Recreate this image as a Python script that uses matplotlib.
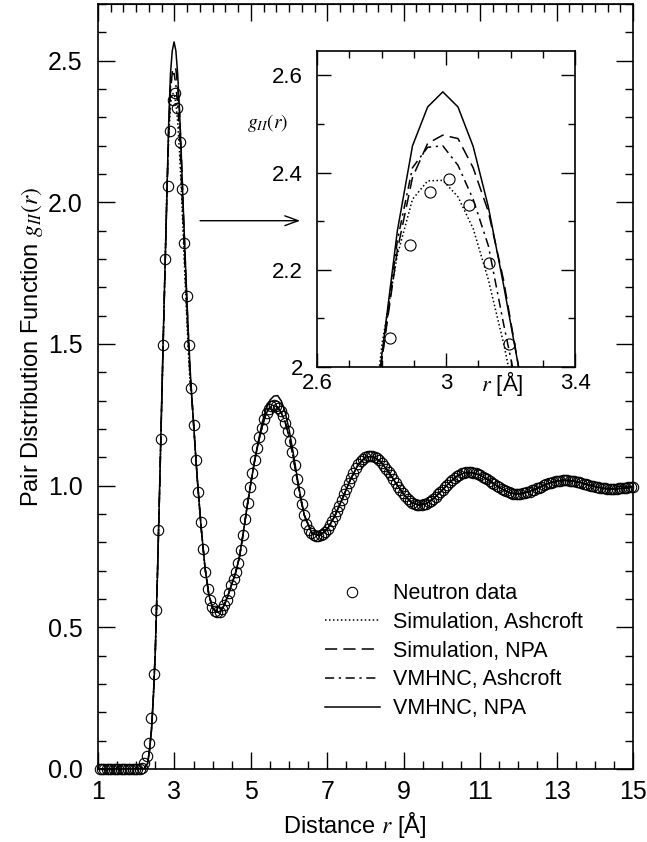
import numpy as np
import matplotlib
matplotlib.use('Agg')
import matplotlib.pyplot as plt
from matplotlib.ticker import MultipleLocator, FixedLocator, FixedFormatter

plt.rcParams['font.family'] = ['Liberation Sans', 'DejaVu Sans']
plt.rcParams['mathtext.fontset'] = 'stix'

# neutron data, regular r grid
r_start, r_step = 1.0425, 0.0615
g_data = [
    0.0, 0.0, 0.0, 0.0, 0.0, 0.0, 0.0, 0.0, 0.0, 0.0,
    0.0, 0.0, 0.0, 0.0, 0.0, 0.0, 0.0, 0.0, 0.005, 0.02,
    0.045, 0.09, 0.18, 0.335, 0.56, 0.843, 1.163, 1.495, 1.80, 2.059,
    2.250, 2.361, 2.386, 2.333, 2.214, 2.048, 1.857, 1.669, 1.495, 1.346,
    1.213, 1.090, 0.978, 0.870, 0.775, 0.696, 0.635, 0.595, 0.570, 0.558,
    0.553, 0.555, 0.563, 0.578, 0.598, 0.622, 0.648, 0.672, 0.695, 0.728,
    0.772, 0.826, 0.884, 0.940, 0.995, 1.045, 1.090, 1.132, 1.170, 1.205,
    1.235, 1.257, 1.272, 1.280, 1.283, 1.281, 1.274, 1.262, 1.245, 1.222,
    1.192, 1.157, 1.117, 1.072, 1.025, 0.978, 0.935, 0.897, 0.866, 0.845,
    0.833, 0.826, 0.823, 0.823, 0.825, 0.830, 0.838, 0.848, 0.860, 0.875,
    0.892, 0.910, 0.929, 0.949, 0.969, 0.989, 1.009, 1.027, 1.045, 1.061,
    1.075, 1.086, 1.095, 1.101, 1.105, 1.106, 1.104, 1.101, 1.096, 1.089,
    1.081, 1.071, 1.060, 1.048, 1.036, 1.023, 1.010, 0.997, 0.984, 0.973,
    0.962, 0.953, 0.945, 0.939, 0.934, 0.932, 0.931, 0.932, 0.934, 0.937,
    0.942, 0.947, 0.954, 0.961, 0.969, 0.978, 0.986, 0.995, 1.004, 1.012,
    1.020, 1.027, 1.033, 1.038, 1.043, 1.046, 1.047, 1.048, 1.047, 1.046,
    1.044, 1.041, 1.037, 1.032, 1.027, 1.022, 1.016, 1.011, 1.005, 0.999,
    0.994, 0.988, 0.984, 0.980, 0.976, 0.974, 0.972, 0.971, 0.971, 0.972,
    0.973, 0.975, 0.977, 0.979, 0.983, 0.986, 0.990, 0.993, 0.997, 1.001,
    1.005, 1.008, 1.011, 1.014, 1.016, 1.017, 1.018, 1.019, 1.019, 1.019,
    1.018, 1.017, 1.015, 1.014, 1.012, 1.010, 1.007, 1.005, 1.003, 1.000,
    0.998, 0.996, 0.994, 0.992, 0.991, 0.990, 0.989, 0.988, 0.988, 0.988,
    0.989, 0.990, 0.991, 0.992, 0.993, 0.994, 0.995, 0.995,
]
r_data = r_start + r_step * np.arange(len(g_data))

# model curves: rise (common), first peak (differs), middle, tail (common)
r_left = [1.0, 1.5, 2.0, 2.2, 2.3, 2.35, 2.4, 2.45, 2.5, 2.55]
g_left = [0.0, 0.0, 0.0, 0.0, 0.02, 0.07, 0.14, 0.26, 0.42, 0.66]

r_peak = [2.614, 2.661, 2.708, 2.755, 2.802, 2.849, 2.896, 2.943, 2.990,
          3.037, 3.084, 3.131, 3.178, 3.225, 3.272, 3.319, 3.366, 3.413]
g_peak_sim_ash = [1.00, 1.26, 1.52, 1.78, 2.05, 2.23, 2.345, 2.383, 2.384,
                  2.35, 2.285, 2.18, 2.05, 1.90, 1.745, 1.60, 1.465, 1.35]
g_peak_sim_npa = [1.00, 1.26, 1.52, 1.77, 2.02, 2.24, 2.39, 2.46, 2.477,
                  2.47, 2.41, 2.32, 2.18, 2.00, 1.83, 1.67, 1.525, 1.40]
g_peak_hnc_ash = [1.00, 1.26, 1.52, 1.77, 2.02, 2.26, 2.41, 2.452, 2.455,
                  2.415, 2.345, 2.25, 2.09, 1.94, 1.78, 1.63, 1.49, 1.37]
g_peak_hnc_npa = [1.00, 1.27, 1.53, 1.78, 2.03, 2.28, 2.455, 2.535, 2.566,
                  2.535, 2.454, 2.33, 2.17, 2.00, 1.84, 1.68, 1.535, 1.405]

r_mid = [3.46, 3.5, 3.55, 3.6, 3.65, 3.7, 3.8, 3.9, 4.0, 4.1, 4.2, 4.3,
         4.4, 4.5, 4.6, 4.7, 4.8, 4.9, 5.0, 5.1, 5.2, 5.3, 5.4, 5.5, 5.6,
         5.7, 5.8, 5.9, 6.0, 6.1, 6.2, 6.3]
g_mid = [1.30, 1.22, 1.117, 1.02, 0.934, 0.85, 0.71, 0.615, 0.568, 0.553,
         0.556, 0.577, 0.612, 0.653, 0.692, 0.748, 0.832, 0.925, 1.01, 1.089,
         1.155, 1.21, 1.255, 1.277, 1.283, 1.277, 1.256, 1.223, 1.172, 1.107,
         1.030, 0.956]
g_mid_hnc_npa = [1.30, 1.22, 1.117, 1.02, 0.934, 0.85, 0.71, 0.615, 0.568, 0.553,
                 0.556, 0.577, 0.612, 0.653, 0.692, 0.748, 0.832, 0.925, 1.01, 1.089,
                 1.16, 1.225, 1.272, 1.302, 1.316, 1.318, 1.298, 1.258, 1.198, 1.122,
                 1.040, 0.962]

r_tail = [6.4, 6.6, 6.8, 7.0, 7.2, 7.4, 7.6, 7.8, 8.0, 8.2, 8.4, 8.6, 8.8,
          9.0, 9.2, 9.4, 9.6, 9.8, 10.0, 10.2, 10.4, 10.6, 10.8, 11.0, 11.2,
          11.4, 11.6, 11.8, 12.0, 12.2, 12.4, 12.6, 12.8, 13.0, 13.2, 13.4,
          13.6, 13.8, 14.0, 14.2, 14.4, 14.6, 14.8, 15.0]
g_tail = [0.895, 0.831, 0.824, 0.846, 0.894, 0.956, 1.020, 1.073, 1.101,
          1.103, 1.084, 1.049, 1.008, 0.969, 0.941, 0.931, 0.937, 0.957,
          0.983, 1.011, 1.034, 1.046, 1.046, 1.037, 1.021, 1.003, 0.986,
          0.974, 0.971, 0.976, 0.985, 0.997, 1.009, 1.016, 1.019, 1.017,
          1.012, 1.004, 0.997, 0.991, 0.988, 0.989, 0.992, 0.995]

r_model = r_left + r_peak + r_mid + r_tail
models = [
    ('Simulation, Ashcroft', g_left + g_peak_sim_ash + g_mid + g_tail, (0, (1, 1.6))),
    ('Simulation, NPA', g_left + g_peak_sim_npa + g_mid + g_tail, (0, (8, 4))),
    ('VMHNC, Ashcroft', g_left + g_peak_hnc_ash + g_mid + g_tail, (0, (6, 3, 1.5, 3))),
    ('VMHNC, NPA', g_left + g_peak_hnc_npa + g_mid_hnc_npa + g_tail, '-'),
]

fig = plt.figure(figsize=(6.47, 8.42), dpi=100)
ax = fig.add_axes([0.1515, 0.0867, 0.8269, 0.9086])

ax.plot(r_data, g_data, 'o', ms=7.5, mfc='none', mec='k', mew=0.8,
        label='Neutron data', clip_on=False, zorder=3)
for name, g, ls in models:
    ax.plot(r_model, g, color='k', ls=ls, lw=1.1, label=name)

ax.set_xlim(1, 15)
ax.set_ylim(0, 2.7)
ax.xaxis.set_major_locator(FixedLocator([1, 3, 5, 7, 9, 11, 13, 15]))
ax.xaxis.set_minor_locator(MultipleLocator(0.5))
ax.yaxis.set_major_locator(MultipleLocator(0.5))
ax.yaxis.set_minor_locator(MultipleLocator(0.1))
ax.yaxis.set_major_formatter('{x:.1f}')
ax.tick_params(which='both', direction='in', right=True, top=False,
               labelsize=18, width=1, pad=11)
ax.tick_params(axis='x', pad=8)
ax.tick_params(which='major', length=12)
ax.tick_params(which='minor', length=6)
for s in ax.spines.values():
    s.set_linewidth(1.2)

top = ax.secondary_xaxis('top')
top.xaxis.set_major_locator(FixedLocator([1, 3, 5, 7, 9, 11, 13, 15]))
top.xaxis.set_minor_locator(MultipleLocator(1 / 3))
top.tick_params(which='both', direction='in', labeltop=False, width=1)
top.tick_params(which='major', length=12)
top.tick_params(which='minor', length=6)

ax.set_xlabel('Distance $r$ [Å]', fontsize=17)
ax.xaxis.set_label_coords(0.48, -0.054)
ax.set_ylabel('Pair Distribution Function $g_{II}(r)$', fontsize=17)
ax.yaxis.set_label_coords(-0.1, 0.552)

ax.legend(loc='upper left', bbox_to_anchor=(0.424, 0.243), frameon=False,
          fontsize=15.5, handlelength=2.55, handletextpad=0.6, labelspacing=0.36,
          borderpad=0, borderaxespad=0, numpoints=1)

ax.annotate('', xy=(6.29, 1.935), xytext=(3.67, 1.935),
            arrowprops=dict(arrowstyle='->,head_length=0.6,head_width=0.22',
                            lw=1, color='k', shrinkA=0, shrinkB=0, mutation_scale=16))

# inset: zoom on first peak
axi = fig.add_axes([0.490, 0.5641, 0.3988, 0.3753])
axi.plot(r_data, g_data, 'o', ms=8, mfc='none', mec='k', mew=0.8, zorder=3)
for name, g, ls in models:
    axi.plot(r_model, g, color='k', ls=ls, lw=1.1)
axi.set_xlim(2.6, 3.4)
axi.set_ylim(2.0, 2.65)
axi.xaxis.set_major_locator(FixedLocator([2.6, 3.0, 3.4]))
axi.xaxis.set_major_formatter(FixedFormatter(['2.6', '3', '3.4']))
axi.xaxis.set_minor_locator(MultipleLocator(0.1))
axi.yaxis.set_major_locator(FixedLocator([2.0, 2.2, 2.4, 2.6]))
axi.yaxis.set_major_formatter(FixedFormatter(['2', '2.2', '2.4', '2.6']))
axi.yaxis.set_minor_locator(MultipleLocator(0.1))
axi.tick_params(which='both', direction='in', top=True, right=True, labelsize=16, width=1)
axi.tick_params(axis='y', pad=10)
axi.tick_params(axis='x', pad=4)
axi.tick_params(which='major', length=10)
axi.tick_params(which='minor', length=5)
for s in axi.spines.values():
    s.set_linewidth(1.2)

fig.text(0.414, 0.854, '$g_{II}(r)$', fontsize=14, ha='center', va='center')
fig.text(0.777, 0.545, '$r$ [Å]', fontsize=16, ha='center', va='center')

fig.savefig('out.png', dpi=100)
